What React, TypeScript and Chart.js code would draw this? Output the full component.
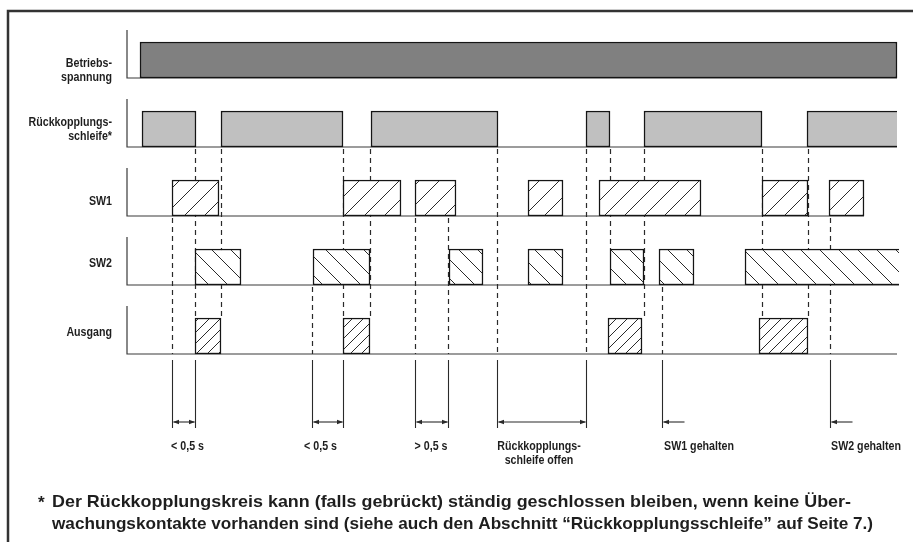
import React, { useEffect, useRef } from 'react';
import { Chart, registerables } from 'chart.js';

Chart.register(...registerables);

// ---------- data ----------
const SIGNALS = ['Betriebsspannung', 'Rückkopplungsschleife', 'SW1', 'SW2', 'Ausgang'];
const SIGNAL_LABELS = [['Betriebs-', 'spannung'], ['Rückkopplungs-', 'schleife*'], ['SW1'], ['SW2'], ['Ausgang']];

const T_START = 127;
const T_END = [897, 897, 864, 899, 897];

const BETRIEB_ON = [[140, 897]];
const RUECK_ON = [[142, 196], [221, 343], [371, 498], [586, 610], [644, 762], [807, 897]];
const SW1_ON = [[172, 219], [343, 401], [415, 456], [528, 563], [599, 701], [762, 808], [829, 864]];
const SW2_ON = [[195, 241], [313, 370], [449, 483], [528, 563], [610, 644], [659, 694], [745, 899]];
const AUSGANG_ON = [[195, 221], [343, 370], [608, 642], [759, 808]];
const OPEN_END = [false, true, false, true, false];

// dashed guides: [time, from signal (below trace), to signal, 'top' | 'base']
const GUIDES: [number, number, number, string][] = [
  [172, 2, 4, 'base'],
  [195, 1, 4, 'top'],
  [220.5, 1, 4, 'top'],
  [312, 3, 4, 'base'],
  [343, 1, 4, 'top'],
  [370, 1, 4, 'top'],
  [415, 2, 4, 'base'],
  [448, 2, 4, 'base'],
  [497, 1, 4, 'base'],
  [586, 1, 4, 'base'],
  [610, 1, 3, 'top'],
  [644, 1, 4, 'top'],
  [662, 3, 4, 'base'],
  [762, 1, 4, 'top'],
  [808, 1, 4, 'top'],
  [829.5, 2, 4, 'base'],
];

// measured spans: [from, to, label centre, label lines]
const SPANS: [number, number, number, string[]][] = [
  [172, 195, 187.5, ['< 0,5 s']],
  [312, 343, 320.5, ['< 0,5 s']],
  [415, 448, 431, ['> 0,5 s']],
  [497, 586, 539, ['Rückkopplungs-', 'schleife offen']],
];
// hold markers: [time, label centre, label]
const HOLDS: [number, number, string][] = [
  [662, 699, 'SW1 gehalten'],
  [829.5, 866, 'SW2 gehalten'],
];

const FOOTNOTE = [
  'Der Rückkopplungskreis kann (falls gebrückt) ständig geschlossen bleiben, wenn keine Über-',
  'wachungskontakte vorhanden sind (siehe auch den Abschnitt “Rückkopplungsschleife” auf Seite 7.)',
];

// ---------- layout / style ----------
const HALF = 18;
const AXIS_H = 48;
const LABEL_RIGHT = 112;
const LABEL_DY = [[6.7, 20.5], [-3.5, 11], [7], [0.3], [0.3]];
const FONT = '"Liberation Sans", Arial, sans-serif';
const TEXT_COLOR = '#1e1e1e';
const LINE_COLOR = '#2a2a2a';
const SMALL_SIZE = 13;
const SMALL_SX = 0.82;
const FOOT_LEFT = 52;
const FOOT_WIDTHS = [799, 821];
const FOOT_BASE = [507, 529];

function hatch(spacing: number, dir: number, lw: number) {
  const c = document.createElement('canvas');
  c.width = spacing;
  c.height = spacing;
  const g = c.getContext('2d')!;
  g.fillStyle = '#ffffff';
  g.fillRect(0, 0, spacing, spacing);
  g.strokeStyle = '#2a2a2a';
  g.lineWidth = lw;
  g.beginPath();
  if (dir > 0) {
    g.moveTo(-2, spacing + 2); g.lineTo(spacing + 2, -2);
    g.moveTo(-2, 2); g.lineTo(2, -2);
    g.moveTo(spacing - 2, spacing + 2); g.lineTo(spacing + 2, spacing - 2);
  } else {
    g.moveTo(-2, -2); g.lineTo(spacing + 2, spacing + 2);
    g.moveTo(spacing - 2, -2); g.lineTo(spacing + 2, 2);
    g.moveTo(-2, spacing - 2); g.lineTo(2, spacing + 2);
  }
  g.stroke();
  return g.createPattern(c, 'repeat');
}

function text(ctx: CanvasRenderingContext2D, s: string, x: number, y: number, size: number, align: CanvasTextAlign, sx: number) {
  ctx.save();
  ctx.font = `bold ${size}px ${FONT}`;
  ctx.fillStyle = TEXT_COLOR;
  ctx.textBaseline = 'alphabetic';
  ctx.textAlign = align;
  ctx.translate(x, y);
  ctx.scale(sx, 1);
  ctx.fillText(s, 0, 0);
  ctx.restore();
}

function arrowHead(ctx: CanvasRenderingContext2D, x: number, y: number, dir: number) {
  ctx.beginPath();
  ctx.moveTo(x, y);
  ctx.lineTo(x + dir * 6, y - 2.2);
  ctx.lineTo(x + dir * 6, y + 2.2);
  ctx.closePath();
  ctx.fill();
}

const decor = {
  id: 'decor',
  beforeDatasetsDraw(chart: any) {
    const { ctx } = chart;
    const x = chart.scales.x;
    const y = chart.scales.y;
    const base = (i: number) => y.getPixelForValue(i) + HALF;
    const top = (i: number) => y.getPixelForValue(i) - HALF;

    ctx.save();
    // frame
    ctx.strokeStyle = '#333';
    ctx.lineWidth = 2.5;
    ctx.beginPath();
    ctx.moveTo(8, 542);
    ctx.lineTo(8, 11);
    ctx.lineTo(913, 11);
    ctx.stroke();

    // axes and baselines
    ctx.strokeStyle = '#3a3a3a';
    ctx.lineWidth = 1.2;
    SIGNALS.forEach((_, i) => {
      const x0 = x.getPixelForValue(T_START);
      ctx.beginPath();
      ctx.moveTo(x0, base(i) - AXIS_H);
      ctx.lineTo(x0, base(i));
      ctx.lineTo(x.getPixelForValue(T_END[i]), base(i));
      ctx.stroke();
    });

    // dashed guides
    ctx.strokeStyle = LINE_COLOR;
    ctx.lineWidth = 1.2;
    ctx.setLineDash([5, 4]);
    GUIDES.forEach(([t, from, to, edge]) => {
      const px = Math.round(x.getPixelForValue(t)) + 0.5;
      ctx.beginPath();
      ctx.moveTo(px, base(from) + 2);
      ctx.lineTo(px, edge === 'top' ? top(to) : base(to));
      ctx.stroke();
    });
    ctx.restore();
  },
  afterDatasetsDraw(chart: any) {
    const { ctx } = chart;
    const x = chart.scales.x;
    const y = chart.scales.y;
    const base4 = y.getPixelForValue(SIGNALS.length - 1) + HALF;
    const dimTop = base4 + 6;
    const dimBot = base4 + 74;
    const arrowY = base4 + 68;
    const t1 = base4 + 96;
    const t2 = base4 + 110;

    ctx.save();
    // signal labels
    SIGNAL_LABELS.forEach((lines, i) => {
      const c = y.getPixelForValue(i);
      lines.forEach((s, k) => text(ctx, s, LABEL_RIGHT, c + LABEL_DY[i][k], SMALL_SIZE, 'right', SMALL_SX));
    });

    ctx.strokeStyle = LINE_COLOR;
    ctx.fillStyle = LINE_COLOR;
    ctx.lineWidth = 1.1;
    const vline = (px: number) => {
      ctx.beginPath();
      ctx.moveTo(px, dimTop);
      ctx.lineTo(px, dimBot);
      ctx.stroke();
    };
    SPANS.forEach(([a, b, lc, lines]) => {
      const pa = Math.round(x.getPixelForValue(a)) + 0.5;
      const pb = Math.round(x.getPixelForValue(b)) + 0.5;
      vline(pa);
      vline(pb);
      ctx.beginPath();
      ctx.moveTo(pa + 1, arrowY);
      ctx.lineTo(pb - 1, arrowY);
      ctx.stroke();
      arrowHead(ctx, pa + 0.5, arrowY, 1);
      arrowHead(ctx, pb - 0.5, arrowY, -1);
      lines.forEach((s, k) => text(ctx, s, x.getPixelForValue(lc), k === 0 ? t1 : t2, SMALL_SIZE, 'center', SMALL_SX));
    });
    HOLDS.forEach(([t, lc, s]) => {
      const p = Math.round(x.getPixelForValue(t)) + 0.5;
      vline(p);
      ctx.beginPath();
      ctx.moveTo(p + 1, arrowY);
      ctx.lineTo(p + 22, arrowY);
      ctx.stroke();
      arrowHead(ctx, p + 0.5, arrowY, 1);
      text(ctx, s, x.getPixelForValue(lc), t1, SMALL_SIZE, 'center', SMALL_SX);
    });

    // footnote (each line fitted to its measured width)
    ctx.font = `bold 17px ${FONT}`;
    const sxs = FOOTNOTE.map((s, k) => FOOT_WIDTHS[k] / ctx.measureText(s).width);
    text(ctx, '*', 38, FOOT_BASE[0] + 1, 17, 'left', sxs[1]);
    FOOTNOTE.forEach((s, k) => text(ctx, s, FOOT_LEFT, FOOT_BASE[k], 17, 'left', sxs[k]));
    ctx.restore();
  },
};

export default function App() {
  const ref = useRef<HTMLCanvasElement>(null);
  useEffect(() => {
    document.body.style.margin = '0';
    const fills: any[] = [
      '#808080',
      '#c0c0c0',
      hatch(20, 1, 1),
      hatch(19, -1, 1),
      hatch(11, 1, 1),
    ];
    const series = [BETRIEB_ON, RUECK_ON, SW1_ON, SW2_ON, AUSGANG_ON];
    const chart = new Chart(ref.current!, {
      type: 'bar',
      data: {
        labels: SIGNALS,
        datasets: series.map((segs, i) => ({
          label: SIGNALS[i],
          data: segs.map(([a, b]) => ({ x: [a, b], y: SIGNALS[i] })),
          backgroundColor: fills[i],
          borderColor: '#151515',
          borderWidth: 1.5,
          borderSkipped: (c: any) => (OPEN_END[i] && c.dataIndex === segs.length - 1 ? 'right' : false),
          grouped: false,
          barThickness: HALF * 2,
        })) as any,
      },
      options: {
        responsive: false,
        animation: false,
        indexAxis: 'y',
        events: [],
        layout: { padding: { top: 25.5, bottom: 171.5, left: 0, right: 0 } },
        scales: {
          x: { type: 'linear', min: 0, max: 913, display: false },
          y: { type: 'category', labels: SIGNALS, display: false, offset: true },
        },
        plugins: { legend: { display: false }, tooltip: { enabled: false } },
      },
      plugins: [decor],
    } as any);
    return () => chart.destroy();
  }, []);
  return <canvas ref={ref} width={913} height={542} style={{ display: 'block', width: 913, height: 542 }} />;
}
